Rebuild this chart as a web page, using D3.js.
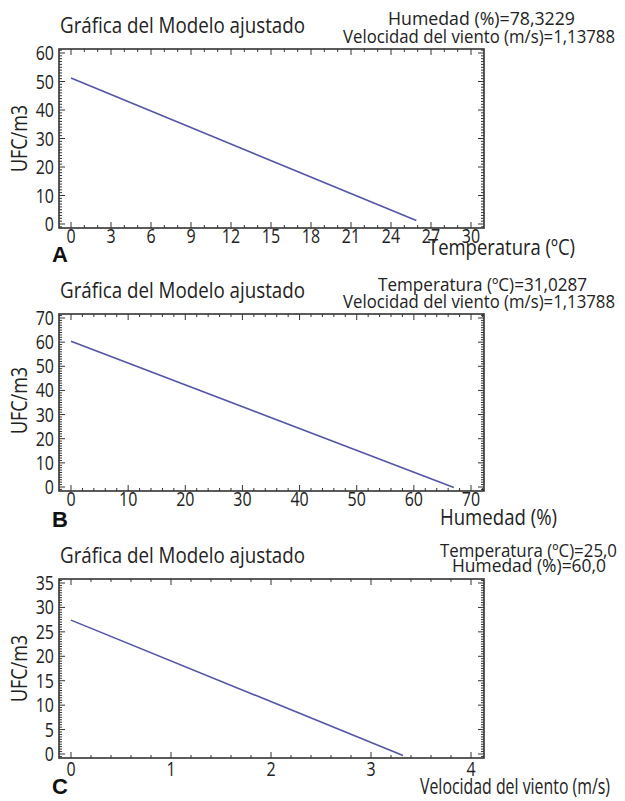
<!DOCTYPE html>
<html><head><meta charset="utf-8">
<script src="https://cdn.jsdelivr.net/npm/d3@7"></script>
<style>body{margin:0;background:#fff}svg{display:block}</style>
</head><body>
<script>
// ---------- data ----------
const panelLetters = ["A", "B", "C"];
const titleText = "Gráfica del Modelo ajustado";
const yLabelText = "UFC/m3";
const xAxisLabels = ["Temperatura (ºC)", "Humedad (%)", "Velocidad del viento (m/s)"];
const notesA = ["Humedad (%)=78,3229", "Velocidad del viento (m/s)=1,13788"];
const notesB = ["Temperatura (ºC)=31,0287", "Velocidad del viento (m/s)=1,13788"];
const notesC = ["Temperatura (ºC)=25,0", "Humedad (%)=60,0"];
const xTicksA = [0, 3, 6, 9, 12, 15, 18, 21, 24, 27, 30];
const xTicksB = [0, 10, 20, 30, 40, 50, 60, 70];
const xTicksC = [0, 1, 2, 3, 4];
const yTicksA = [0, 10, 20, 30, 40, 50, 60];
const yTicksB = [0, 10, 20, 30, 40, 50, 60, 70];
const yTicksC = [0, 5, 10, 15, 20, 25, 30, 35];
const xMinorSteps = [1, 2, 0.2];
const yMinorSteps = [1, 1, 0.5];
// fitted model line (start, end) per panel: [x, UFC/m3]
const lineA = [[0, 51.2], [25.9, 1.2]];
const lineB = [[0, 60.4], [67.0, -0.2]];
const lineC = [[0, 27.4], [3.32, -0.3]];

// ---------- layout ----------
const W = 625, H = 801;
const svg = d3.select("body").append("svg").attr("width", W).attr("height", H);
const font = "'Open Sans', 'Noto Sans', sans-serif";
const frameL = 59, frameR = 484;
const layout = [
  {oy: 0, top: 49, bottom: 228, y0: 224, yMaxPx: 53, xtOff: 15,
   notes: [{x: 388, y: 25, w: 187}, {x: 343, y: 43, w: 272}],
   xlab: {x: 428, y: 255, w: 147}, letterY: 262, ylabY: 138},
  {oy: 265, top: 314, bottom: 491, y0: 487, yMaxPx: 318, xtOff: 15,
   notes: [{x: 378, y: 291, w: 209}, {x: 343, y: 308, w: 272}],
   xlab: {x: 440, y: 525, w: 117}, letterY: 527, ylabY: 400},
  {oy: 530, top: 579, bottom: 758, y0: 754, yMaxPx: 583, xtOff: 18,
   notes: [{x: 440, y: 557, w: 177}, {x: 452, y: 572, w: 154}],
   xlab: {x: 420, y: 794, w: 190}, letterY: 794, ylabY: 668}
];
const panels = [
  {xTicks: xTicksA, yTicks: yTicksA, line: lineA, notes: notesA},
  {xTicks: xTicksB, yTicks: yTicksB, line: lineB, notes: notesB},
  {xTicks: xTicksC, yTicks: yTicksC, line: lineC, notes: notesC}
];

function range(a, b, step) {
  const out = [];
  const start = Math.ceil(a / step - 1e-9);
  const end = Math.floor(b / step + 1e-9);
  for (let i = start; i <= end; i++) out.push(+(i * step).toFixed(6));
  return out;
}

panels.forEach((p, i) => {
  const L = layout[i];
  const g = svg.append("g");
  const xMax = p.xTicks[p.xTicks.length - 1];
  const yMax = p.yTicks[p.yTicks.length - 1];
  const x = d3.scaleLinear().domain([0, xMax]).range([71, 471]);
  const y = d3.scaleLinear().domain([0, yMax]).range([L.y0, L.yMaxPx]);

  // title
  g.append("text").attr("x", 60).attr("y", L.oy + 33)
    .attr("font-family", font).attr("font-size", 22).attr("fill", "#222")
    .attr("textLength", 245).attr("lengthAdjust", "spacingAndGlyphs")
    .text(titleText);

  // notes
  p.notes.forEach((t, k) => {
    const n = L.notes[k];
    g.append("text").attr("x", n.x).attr("y", n.y)
      .attr("font-family", font).attr("font-size", 19).attr("fill", "#222")
      .attr("textLength", n.w).attr("lengthAdjust", "spacingAndGlyphs")
      .text(t);
  });

  // minor/major ticks (all four sides, inward)
  const xr = [x.invert(frameL), x.invert(frameR)];
  const yr = [y.invert(L.bottom), y.invert(L.top)];
  const xMinor = range(xr[0], xr[1], xMinorSteps[i]);
  const yMinor = range(yr[0], yr[1], yMinorSteps[i]);
  const tickG = g.append("g").attr("stroke", "#333").attr("stroke-width", 1);
  xMinor.forEach(v => {
    const major = p.xTicks.includes(v);
    const len = major ? 6 : 3;
    const px = x(v);
    if (px <= frameL + 1 || px >= frameR - 1) return;
    tickG.append("line").attr("x1", px).attr("x2", px).attr("y1", L.bottom).attr("y2", L.bottom - len);
    tickG.append("line").attr("x1", px).attr("x2", px).attr("y1", L.top).attr("y2", L.top + len);
  });
  yMinor.forEach(v => {
    const major = p.yTicks.includes(v);
    const len = major ? 6 : 3;
    const py = y(v);
    if (py <= L.top + 1 || py >= L.bottom - 1) return;
    tickG.append("line").attr("x1", frameL).attr("x2", frameL + len).attr("y1", py).attr("y2", py);
    tickG.append("line").attr("x1", frameR).attr("x2", frameR - len).attr("y1", py).attr("y2", py);
  });

  // frame
  g.append("rect").attr("x", frameL).attr("y", L.top)
    .attr("width", frameR - frameL).attr("height", L.bottom - L.top)
    .attr("fill", "none").attr("stroke", "#333").attr("stroke-width", 1.6);

  // tick labels (condensed)
  g.selectAll(".xt").data(p.xTicks).enter().append("text")
    .attr("transform", d => `translate(${x(d)},${L.bottom + L.xtOff}) scale(0.82,1)`)
    .attr("text-anchor", "middle").attr("font-family", font).attr("font-size", 19.5)
    .attr("fill", "#222").text(d => d);
  g.selectAll(".yt").data(p.yTicks).enter().append("text")
    .attr("transform", d => `translate(54,${y(d) + 7}) scale(0.82,1)`)
    .attr("text-anchor", "end").attr("font-family", font).attr("font-size", 19.5)
    .attr("fill", "#222").text(d => d);

  // y label
  g.append("text").attr("transform", `translate(27,${L.ylabY + 34}) rotate(-90)`)
    .attr("font-family", font).attr("font-size", 22).attr("fill", "#222")
    .attr("textLength", 67).attr("lengthAdjust", "spacingAndGlyphs")
    .text(yLabelText);

  // x label
  g.append("text").attr("x", L.xlab.x).attr("y", L.xlab.y)
    .attr("font-family", font).attr("font-size", 22).attr("fill", "#222")
    .attr("textLength", L.xlab.w).attr("lengthAdjust", "spacingAndGlyphs")
    .text(xAxisLabels[i]);

  // panel letter
  g.append("text").attr("x", 52).attr("y", L.letterY)
    .attr("font-family", "'Liberation Sans', Arial, sans-serif").attr("font-weight", "bold")
    .attr("font-size", 22).attr("fill", "#111").text(panelLetters[i]);

  // model line
  g.append("path").datum(p.line)
    .attr("d", d3.line().x(d => x(d[0])).y(d => y(d[1])))
    .attr("fill", "none").attr("stroke", "#5555a8").attr("stroke-width", 1.6);
});
</script>
</body></html>
